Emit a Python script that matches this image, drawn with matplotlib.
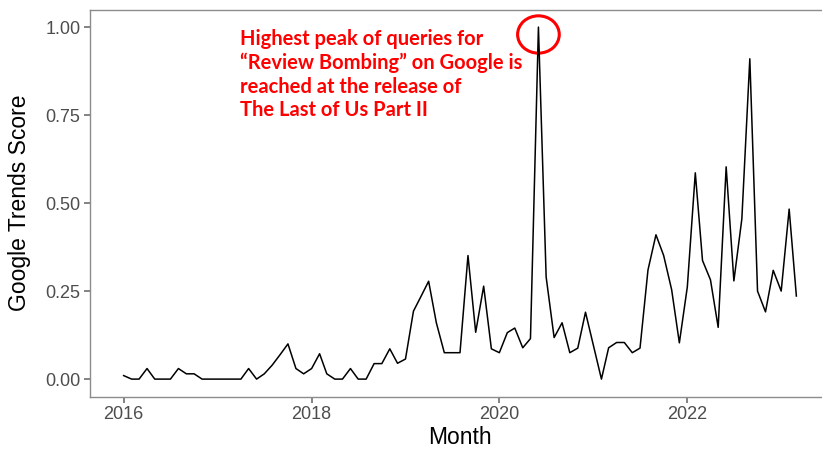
import numpy as np
import pandas as pd
import matplotlib
matplotlib.use("Agg")
import matplotlib.pyplot as plt
import matplotlib.dates as mdates
from matplotlib.patches import Ellipse

# monthly Google Trends score for "Review Bombing", Jan 2016 - Mar 2023
months = pd.date_range("2016-01-01", "2023-03-01", freq="MS")
score = [0.01, 0.0, 0.0, 0.03, 0.0, 0.0, 0.0, 0.03, 0.015, 0.015,
         0.0, 0.0, 0.0, 0.0, 0.0, 0.0, 0.03, 0.0, 0.015, 0.04,
         0.07, 0.10, 0.03, 0.015, 0.03, 0.072, 0.015, 0.0, 0.0, 0.03,
         0.0, 0.0, 0.044, 0.044, 0.086, 0.045, 0.057, 0.193, 0.233, 0.278,
         0.16, 0.075, 0.075, 0.075, 0.351, 0.133, 0.264, 0.086, 0.075, 0.132,
         0.145, 0.089, 0.115, 1.0, 0.29, 0.118, 0.16, 0.075, 0.088, 0.19,
         0.095, 0.0, 0.089, 0.104, 0.104, 0.075, 0.088, 0.31, 0.41, 0.351,
         0.254, 0.103, 0.262, 0.586, 0.337, 0.282, 0.147, 0.603, 0.279, 0.455,
         0.91, 0.25, 0.191, 0.309, 0.25, 0.483, 0.236]

year_ticks = ["2016", "2018", "2020", "2022"]
y_ticks = [0.0, 0.25, 0.5, 0.75, 1.0]

note = ("Highest peak of queries for\n"
        "\u201cReview Bombing\u201d on Google is\n"
        "reached at the release of\n"
        "The Last of Us Part II")

plt.rcParams["font.family"] = ["Liberation Sans", "DejaVu Sans"]

fig = plt.figure(figsize=(8.22, 4.5), dpi=100)
# right border of the panel falls outside the picture, like the original crop
ax = fig.add_axes([90 / 822, 53.3 / 450, 740 / 822, 387.2 / 450])

x = mdates.date2num(months.to_pydatetime())
ax.plot(x, score, color="black", lw=1.1)

span = x[-1] - x[0]
ax.set_xlim(x[0] - 0.05 * span, x[-1] + 0.05 * span)
ax.set_ylim(-0.05, 1.05)

tick_pos = [mdates.date2num(pd.Timestamp(y + "-01-01").to_pydatetime()) for y in year_ticks]
ax.set_xticks(tick_pos)
ax.set_xticklabels(year_ticks)
ax.set_yticks(y_ticks)
ax.set_yticklabels([f"{v:.2f}" for v in y_ticks])

for s in ax.spines.values():
    s.set_color("#8c8c8c")
    s.set_linewidth(1.0)
ax.tick_params(colors="#6e6e6e", labelcolor="#4d4d4d", labelsize=13,
               length=4, width=1.2, pad=3)

ax.set_xlabel("Month", fontsize=16.5, labelpad=2)
ax.set_ylabel("Google Trends Score", fontsize=16.5, labelpad=10)

# red circle round the peak
peak = mdates.date2num(pd.Timestamp("2020-06-01").to_pydatetime())
ax.add_patch(Ellipse((peak, 0.979), 162, 0.106, fill=False,
                     edgecolor="#ff0000", lw=2.2, clip_on=False))

fig.text(240 / 822, 1 - 29 / 450, note, color="#ff0000", fontsize=14.5,
         fontweight="bold", family=["Lato", "DejaVu Sans"], va="top",
         ha="left", linespacing=1.22)

fig.savefig("out.png", dpi=100)
plt.close(fig)
